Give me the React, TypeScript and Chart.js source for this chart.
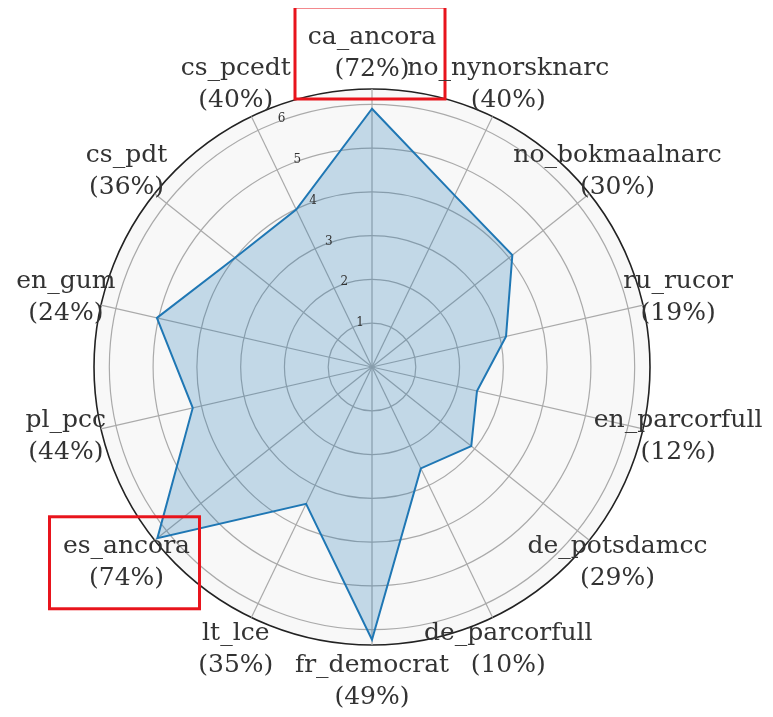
import React, { useEffect, useRef } from "react";
import { Chart, registerables } from "chart.js";

Chart.register(...registerables);

const categories = [
  "ca_ancora",
  "no_nynorsknarc",
  "no_bokmaalnarc",
  "ru_rucor",
  "en_parcorfull",
  "de_potsdamcc",
  "de_parcorfull",
  "fr_democrat",
  "lt_lce",
  "es_ancora",
  "pl_pcc",
  "en_gum",
  "cs_pdt",
  "cs_pcedt",
];
const percentages = [72, 40, 30, 19, 12, 29, 10, 49, 35, 74, 44, 24, 36, 40];
const values = [5.9, 4.35, 4.1, 3.14, 2.46, 2.9, 2.57, 6.23, 3.47, 6.27, 4.2, 5.04, 4.0, 3.99];
const tickValues = [1, 2, 3, 4, 5, 6];
const highlighted = ["ca_ancora", "es_ancora"];
const rMax = 6.35;

const LABEL_FONT = '25px "DejaVu Serif"';
const TICK_FONT = '12px "DejaVu Serif"';

const decorPlugin = {
  id: "decor",
  beforeDraw(chart: any) {
    const s = chart.scales.r;
    const ctx = chart.ctx;
    ctx.save();
    ctx.beginPath();
    ctx.arc(s.xCenter, s.yCenter, s.drawingArea, 0, Math.PI * 2);
    ctx.fillStyle = "#f8f8f8";
    ctx.fill();
    ctx.restore();
  },
  afterDraw(chart: any) {
    const s = chart.scales.r;
    const ctx = chart.ctx;
    ctx.save();
    // radial tick labels
    ctx.font = TICK_FONT;
    ctx.fillStyle = "#333";
    ctx.textAlign = "left";
    ctx.textBaseline = "bottom";
    const tickAngle = -Math.PI / 2 - (21 * Math.PI) / 180;
    tickValues.forEach((v) => {
      const d = s.getDistanceFromCenterForValue(v);
      const x = s.xCenter + Math.cos(tickAngle) * d;
      const y = s.yCenter + Math.sin(tickAngle) * d;
      ctx.fillText(String(v), x, y + 3);
    });
    // category labels
    const labelDist = s.drawingArea + 36;
    ctx.font = LABEL_FONT;
    ctx.fillStyle = "#333";
    ctx.textAlign = "center";
    ctx.textBaseline = "middle";
    categories.forEach((c, i) => {
      const p = s.getPointPosition(i, labelDist);
      ctx.fillText(c, p.x, p.y - 16);
      ctx.fillText("(" + percentages[i] + "%)", p.x, p.y + 16);
      if (highlighted.includes(c)) {
        ctx.strokeStyle = "#e8141c";
        ctx.lineWidth = 3;
        ctx.strokeRect(p.x - 77, p.y - 46, 150, 92);
      }
    });
    ctx.restore();
  },
};

export default function App() {
  const ref = useRef<HTMLCanvasElement | null>(null);
  useEffect(() => {
    if (!ref.current) return;
    const chart = new Chart(ref.current, {
      type: "radar",
      data: {
        labels: categories,
        datasets: [
          {
            data: values,
            backgroundColor: "rgba(31,119,180,0.25)",
            borderColor: "#1f77b4",
            borderWidth: 2,
            borderJoinStyle: "miter",
            pointRadius: 0,
            pointHoverRadius: 0,
            fill: true,
            tension: 0,
          },
        ],
      },
      options: {
        responsive: false,
        animation: false,
        devicePixelRatio: 1,
        layout: { padding: { left: 86, right: 115, top: 81, bottom: 64 } },
        plugins: {
          legend: { display: false },
          tooltip: { enabled: false },
        },
        scales: {
          r: {
            min: 0,
            max: rMax,
            ticks: { display: false, stepSize: 1, showLabelBackdrop: false },
            pointLabels: { display: false },
            grid: {
              circular: true,
              color: (c: any) => (c.tick && c.tick.value > 6.01 ? "#222" : "#aaaaaa"),
              lineWidth: (c: any) => (c.tick && c.tick.value > 6.01 ? 1.6 : 1.2),
            },
            angleLines: { color: "#aaaaaa", lineWidth: 1.2 },
          },
        },
      } as any,
      plugins: [decorPlugin],
    });
    return () => chart.destroy();
  }, []);
  return (
    <div style={{ width: 757, height: 701 }}>
      <canvas ref={ref} width={757} height={701} style={{ display: "block" }} />
    </div>
  );
}
